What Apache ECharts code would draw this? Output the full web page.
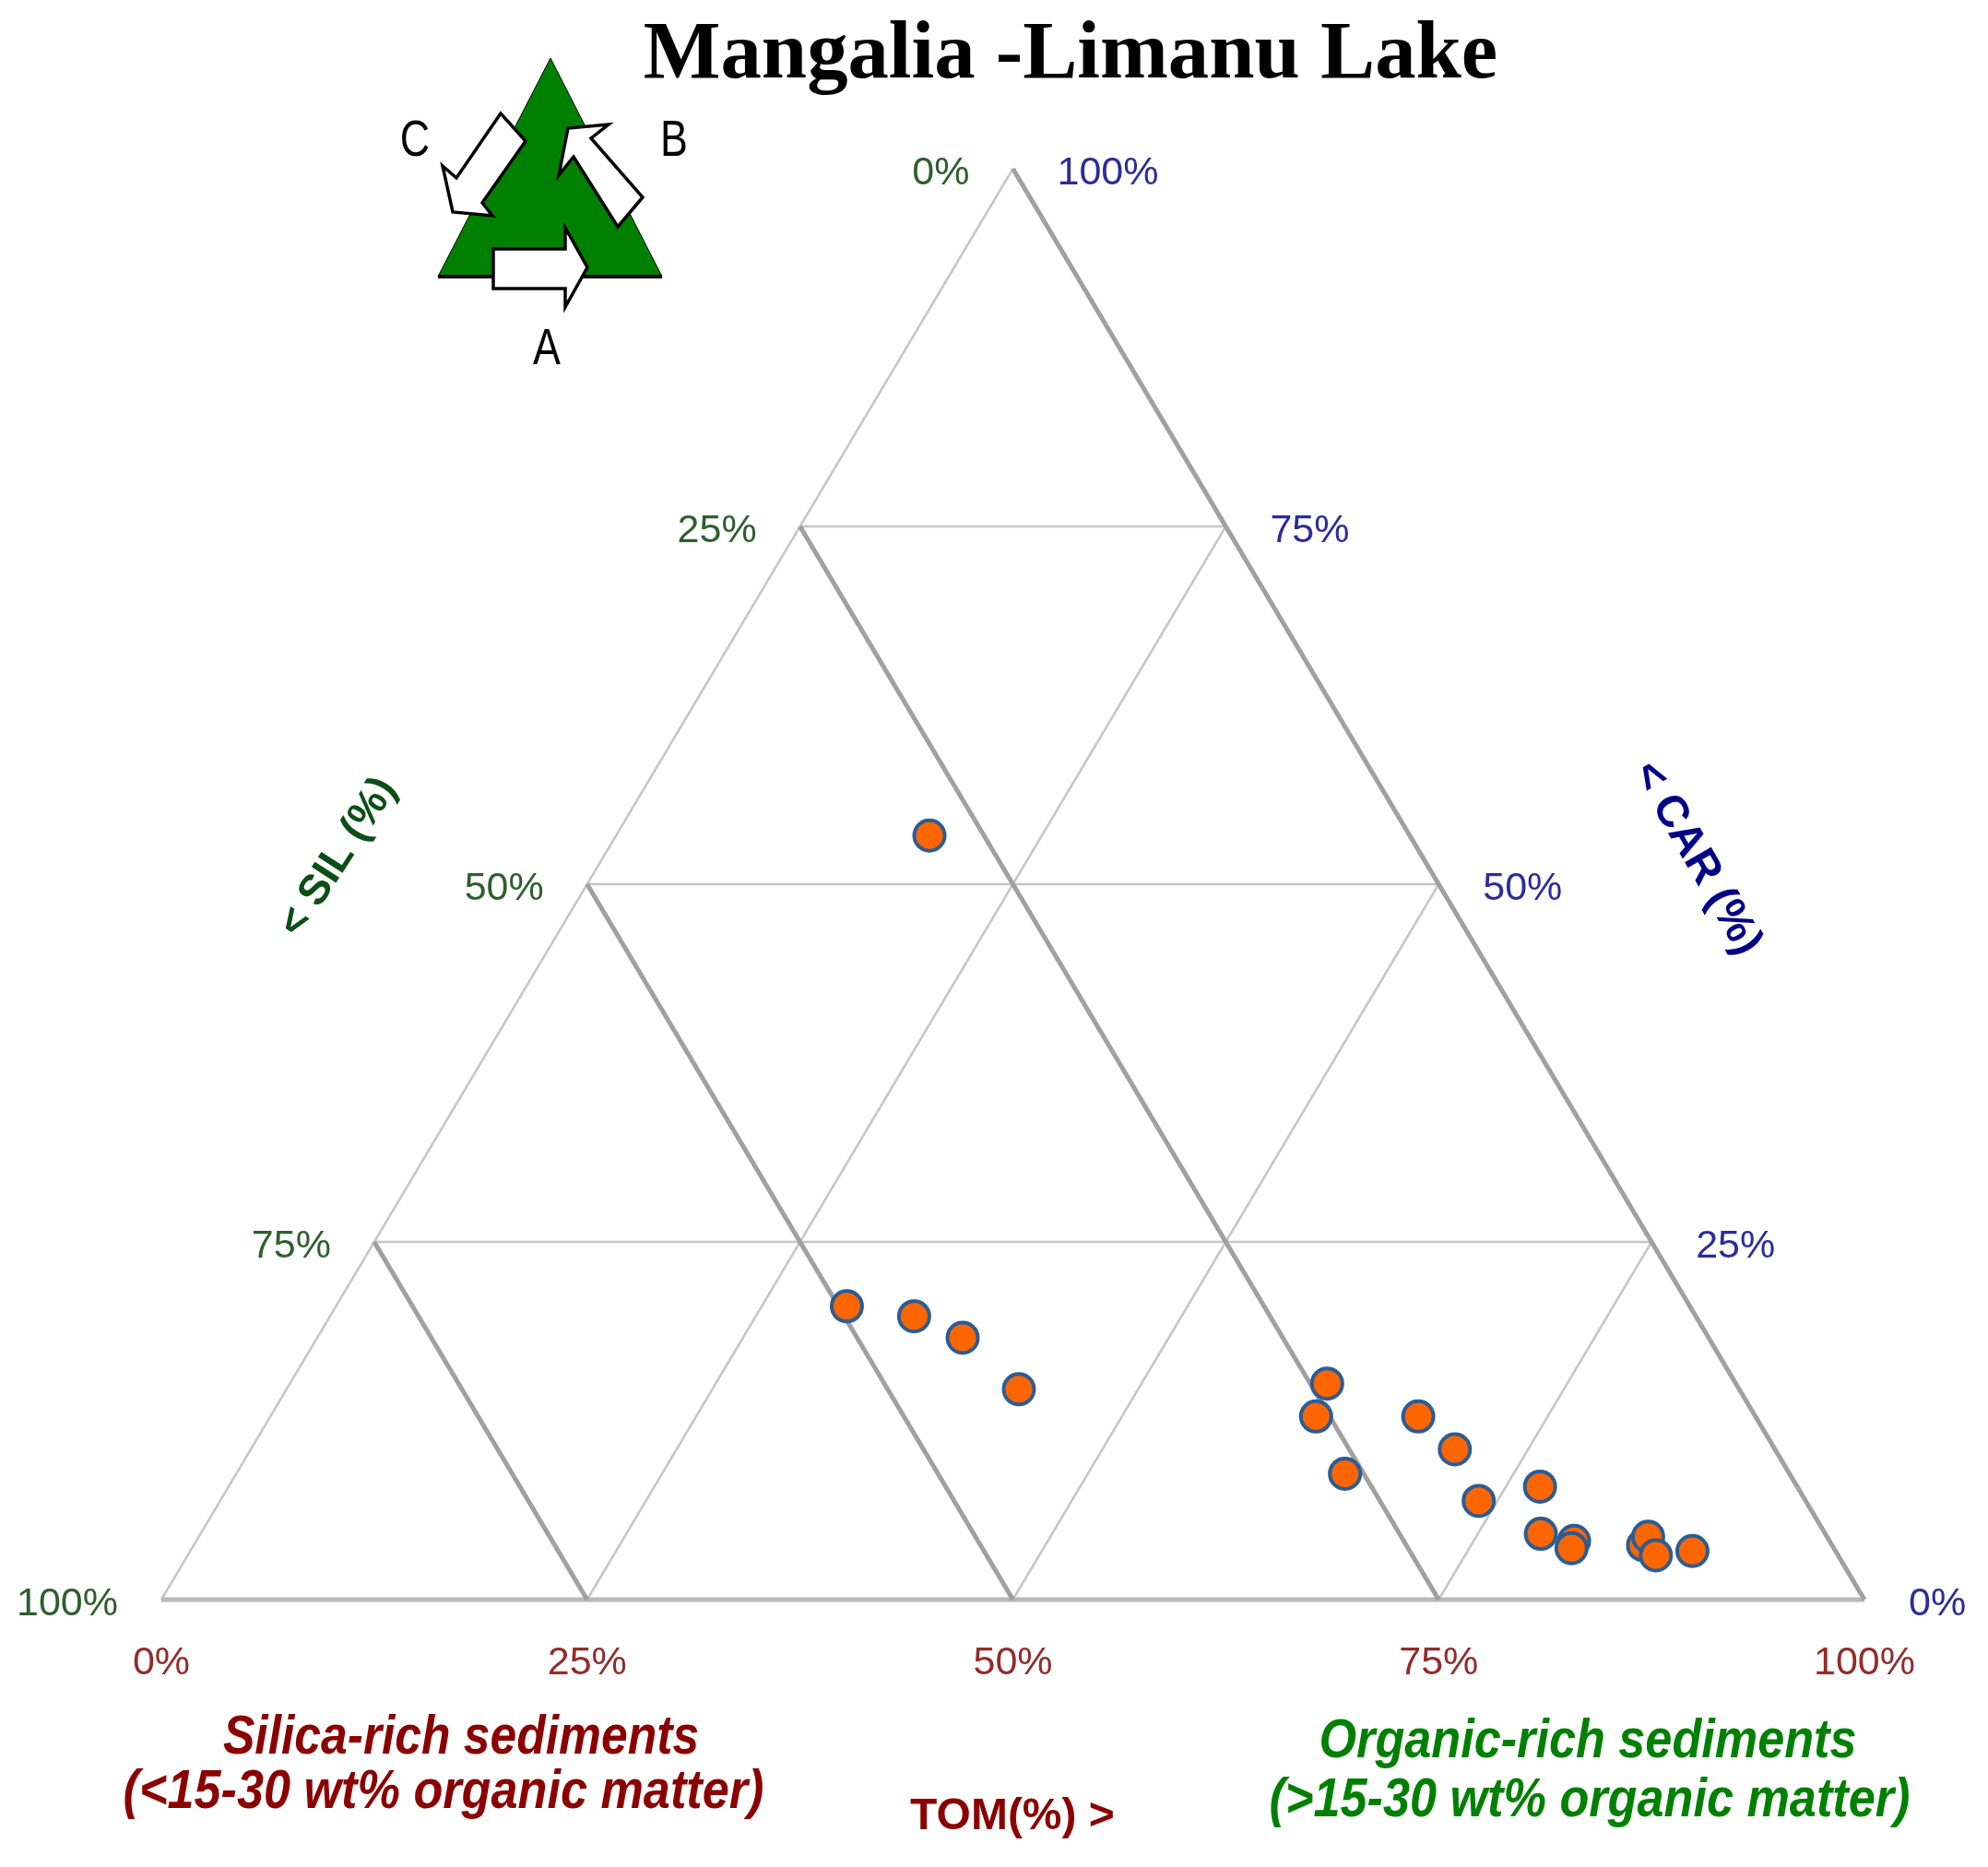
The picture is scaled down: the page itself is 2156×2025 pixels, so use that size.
<!DOCTYPE html>
<html>
<head>
<meta charset="utf-8">
<title>Mangalia -Limanu Lake</title>
<style>
html, body { margin: 0; padding: 0; background: #fff; }
#main { width: 2156px; height: 2025px; }
</style>
<script src="https://cdn.jsdelivr.net/npm/echarts@6/dist/echarts.min.js"></script>
</head>
<body>
<div id="main"></div>
<script>
// sample values, percent
var sampleTOM = [18.4, 30.0, 34.3, 37.9, 43.0, 60.9, 61.4, 65.1, 67.4, 70.7, 73.9, 77.0, 78.7, 80.9, 81.0, 85.1, 85.1, 86.2, 88.2];
var sampleCAR = [53.4, 20.5, 19.8, 18.3, 14.7, 15.1, 12.8, 8.8, 12.8, 10.5, 6.9, 7.9, 4.6, 4.1, 3.6, 3.8, 4.4, 3.1, 3.4];

var gridTicks = [25, 50, 75];
var axisTicks = [0, 25, 50, 75, 100];
var axisLabels = ['0%', '25%', '50%', '75%', '100%'];

var titleText = 'Mangalia -Limanu Lake';
var tomTitle = 'TOM(%) >';
var silTitle = '< SIL (%)';
var carTitle = '< CAR (%)';
var silicaLines = ['Silica-rich sediments', '(<15-30 wt% organic matter)'];
var organicLines = ['Organic-rich sediments', '(>15-30 wt% organic matter)'];

// ternary to plot coords, TOM runs along the base and CAR goes up
function ternary(tom, car) {
    return [tom + car / 2, car];
}

function gridLine(from, to, color, width) {
    return {
        type: 'line',
        silent: true,
        symbol: 'none',
        clip: false,
        data: [from, to],
        lineStyle: { color: color, width: width }
    };
}

var series = [];
var thin = '#c6c6c6';
var thick = '#a0a0a0';

// left side and lines of constant TOM
series.push(gridLine(ternary(0, 0), ternary(0, 100), thin, 2.5));
gridTicks.forEach(function(t) {
    series.push(gridLine(ternary(t, 0), ternary(t, 100 - t), thin, 2.5));
});
// lines of constant CAR
gridTicks.forEach(function(t) {
    series.push(gridLine(ternary(0, t), ternary(100 - t, t), thin, 2.5));
});
series.push(gridLine(ternary(0, 0), ternary(100, 0), '#b8b8b8', 5));
// right side and lines of constant SIL
series.push(gridLine(ternary(100, 0), ternary(0, 100), thick, 5));
gridTicks.forEach(function(t) {
    series.push(gridLine(ternary(100 - t, 0), ternary(0, 100 - t), thick, 5));
});

function tickSeries(points, color, align, offset) {
    return {
        type: 'scatter',
        silent: true,
        symbolSize: 0,
        clip: false,
        itemStyle: { opacity: 1 },
        data: points,
        label: {
            show: true,
            position: 'inside',
            align: align,
            verticalAlign: 'middle',
            offset: offset,
            color: color,
            fontFamily: 'Liberation Sans',
            fontSize: 43,
            formatter: function(p) { return p.value[2]; }
        }
    };
}

// SIL along the left side, CAR along the right side, TOM under the base
series.push(tickSeries(axisTicks.map(function(t, i) {
    var p = ternary(0, 100 - t);
    return [p[0], p[1], axisLabels[i]];
}), '#2e5e2e', 'right', [-47, 5]));
series.push(tickSeries(axisTicks.map(function(t, i) {
    var p = ternary(100 - t, t);
    return [p[0], p[1], axisLabels[i]];
}), '#2c2c9c', 'left', [48, 5]));
series.push(tickSeries(axisTicks.map(function(t, i) {
    var p = ternary(t, 0);
    return [p[0], p[1], axisLabels[i]];
}), '#922c2c', 'center', [0, 69]));

series.push({
    type: 'scatter',
    symbol: 'circle',
    symbolSize: 33,
    clip: false,
    z: 5,
    itemStyle: { color: '#ff6600', borderColor: '#2b5c94', borderWidth: 4, opacity: 1 },
    data: sampleTOM.map(function(t, i) {
        return ternary(t, sampleCAR[i]);
    })
});

function caption(text, x, y, size, color, opts) {
    opts = opts || {};
    return {
        type: 'text',
        x: x,
        y: y,
        scaleX: opts.scaleX || 1,
        rotation: opts.rotation || 0,
        style: {
            x: 0,
            y: 0,
            text: text,
            fill: color,
            font: (opts.style || 'bold') + ' ' + size + 'px "Liberation Sans"',
            textAlign: 'center',
            textVerticalAlign: 'middle'
        }
    };
}

function arrow(points) {
    return {
        type: 'polygon',
        shape: { points: points },
        style: { fill: '#fff', stroke: '#000', lineWidth: 3.5, lineJoin: 'miter' }
    };
}

var graphics = [
    {
        type: 'polygon',
        shape: { points: [[597, 63], [475, 300], [718, 300]] },
        style: { fill: '#008000', stroke: '#000', lineWidth: 1 }
    },
    {
        type: 'line',
        shape: { x1: 475, y1: 300, x2: 718, y2: 300 },
        style: { stroke: '#000', lineWidth: 4 }
    },
    arrow([[535, 270], [613, 270], [613, 247], [637, 290], [613, 333], [613, 313], [535, 313]]),
    arrow([[660, 135], [616, 139], [606, 190], [622, 170], [670, 246], [697, 214], [641, 150]]),
    arrow([[543, 123], [495, 193], [480, 180], [491, 230], [534, 234], [523, 220], [570, 153]]),
    caption('C', 450, 154, 56, '#000', { style: 'normal', scaleX: 0.8 }),
    caption('B', 731, 154, 56, '#000', { style: 'normal', scaleX: 0.8 }),
    caption('A', 593, 380, 56, '#000', { style: 'normal', scaleX: 0.8 }),
    caption(tomTitle, 1098, 1971, 48, '#8b0000'),
    caption(silTitle, 367, 930, 46, '#0b4f16', { rotation: 57 * Math.PI / 180 }),
    caption(carTitle, 1840, 931, 48, '#000088', { rotation: -60 * Math.PI / 180 }),
    caption(silicaLines[0], 500, 1885, 60, '#8b0000', { style: 'italic bold', scaleX: 0.86 }),
    caption(silicaLines[1], 481, 1944, 60, '#8b0000', { style: 'italic bold', scaleX: 0.87 }),
    caption(organicLines[0], 1722, 1889, 60, '#008000', { style: 'italic bold', scaleX: 0.87 }),
    caption(organicLines[1], 1724, 1953, 60, '#008000', { style: 'italic bold', scaleX: 0.87 })
];

var myChart = echarts.init(document.getElementById('main'), null, { renderer: 'canvas' });
myChart.setOption({
    animation: false,
    backgroundColor: '#fff',
    title: {
        text: titleText,
        left: 1156,
        top: 12,
        textAlign: 'center',
        textStyle: {
            color: '#000',
            fontFamily: 'Liberation Serif',
            fontWeight: 'bold',
            fontSize: 88.7
        }
    },
    grid: { left: 175, top: 183, width: 1847, height: 1552 },
    xAxis: { type: 'value', min: 0, max: 100, show: false },
    yAxis: { type: 'value', min: 0, max: 100, show: false },
    series: series,
    graphic: { elements: graphics }
});
</script>
</body>
</html>
